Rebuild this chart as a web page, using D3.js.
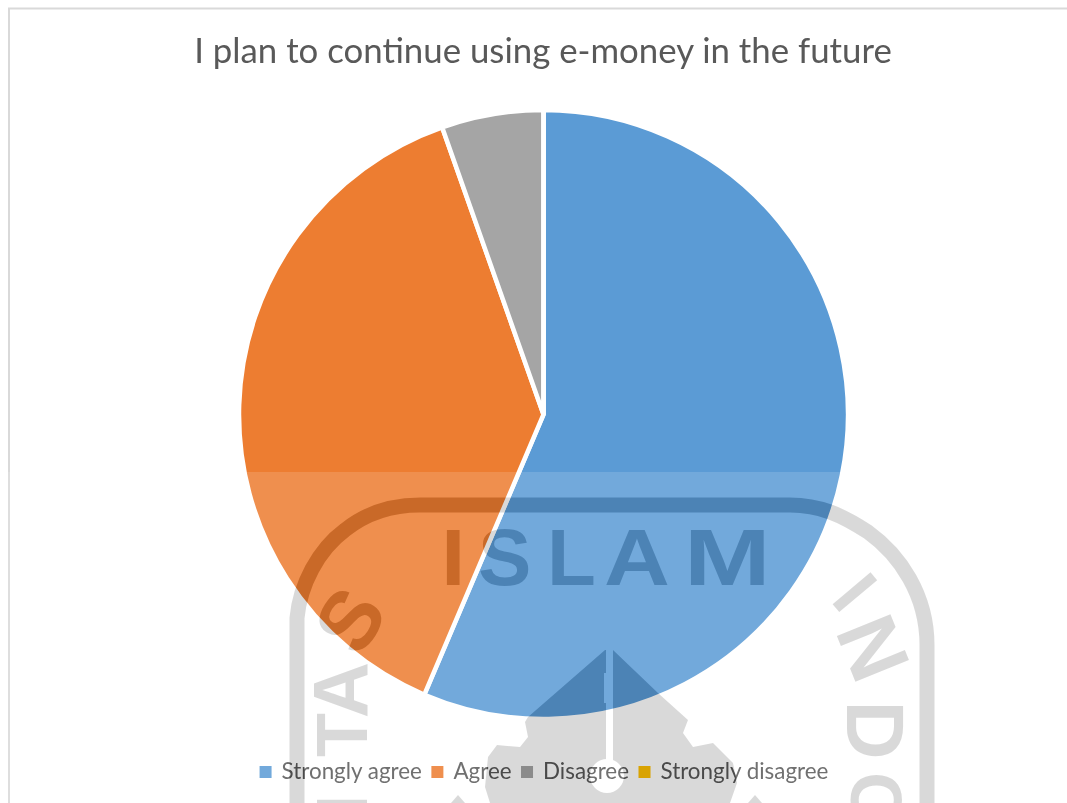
<!DOCTYPE html>
<html>
<head>
<meta charset="utf-8">
<script src="https://cdnjs.cloudflare.com/ajax/libs/d3/7.8.5/d3.min.js"></script>
<style>
  html, body { margin: 0; padding: 0; background: #fff; overflow: hidden; }
  svg { display: block; }
  text { font-family: Lato, "Open Sans", sans-serif; }
</style>
</head>
<body>
<svg id="chart" width="1067" height="803"></svg>
<script>
const chartTitle = "I plan to continue using e-money in the future";
const categories = ["Strongly agree", "Agree", "Disagree", "Strongly disagree"];
const shares = [56.4, 38.2, 5.4, 0];
const palette = ["#5b9bd5", "#ed7d31", "#a5a5a5", "#ffc000"];

const width = 1067, height = 803;
const center = { x: 543.5, y: 414.5 };
const radius = 304.5;

const svg = d3.select("#chart");
svg.append("rect").attr("width", width).attr("height", height).attr("fill", "#fff");

// Chart frame runs off the right and bottom edges of the page
svg.append("path")
  .attr("d", d3.line()([[9, height], [9, 8.5], [width, 8.5]]))
  .attr("fill", "none").attr("stroke", "#d9d9d9").attr("stroke-width", 2);

svg.append("text")
  .attr("x", 543).attr("y", 63)
  .attr("text-anchor", "middle")
  .attr("font-size", 34.8).attr("fill", "#595959")
  .text(chartTitle);

// Pie
const colour = d3.scaleOrdinal().domain(categories).range(palette);
const pie = d3.pie().sort(null).value((d, i) => shares[i]);
const arc = d3.arc().innerRadius(0).outerRadius(radius);

svg.append("g")
  .attr("transform", `translate(${center.x},${center.y})`)
  .selectAll("path")
  .data(pie(categories))
  .join("path")
  .attr("d", arc)
  .attr("fill", d => colour(d.data))
  .attr("stroke", "#fff").attr("stroke-width", 4.5);

// Legend, laid out from the measured width of each label
const legendY = 772, legendSwatch = 12, swatchGap = 10, entryGap = 9.5;
const legend = svg.append("g");
const entries = legend.selectAll("g").data(categories).join("g");
entries.append("rect")
  .attr("y", legendY - legendSwatch / 2)
  .attr("width", legendSwatch).attr("height", legendSwatch)
  .attr("fill", d => colour(d));
entries.append("text")
  .attr("x", legendSwatch + swatchGap).attr("y", legendY + 7)
  .attr("font-size", 22.4).attr("fill", "#595959")
  .text(d => d);
let cursor = 0;
entries.each(function () {
  const w = d3.select(this).select("text").node().getComputedTextLength();
  d3.select(this).attr("transform", `translate(${cursor},0)`);
  cursor += legendSwatch + swatchGap + w + entryGap;
});
legend.attr("transform", `translate(${544 - (cursor - entryGap) / 2},0)`);

// Pale sheet over the lower part of the page
svg.append("rect")
  .attr("x", 0).attr("y", 472).attr("width", width).attr("height", height - 472)
  .attr("fill", "#fff").attr("opacity", 0.14);

// University seal printed across the page; difference lowers every channel evenly
const seal = svg.append("g")
  .style("mix-blend-mode", "difference")
  .attr("fill", "#262626");

// Outer ring of the seal
seal.append("path")
  .attr("d", "M297,803 L297,618 C300,585 318,550 345,530 C365,514 390,505 420,505 L790,505 C820,505 842,515 868,532 C900,555 927,595 927,645 L927,803")
  .attr("fill", "none").attr("stroke", "#262626").attr("stroke-width", 15);

// Emblem at the foot of the seal and the two tips beside it
seal.append("path")
  .attr("d", "M605,650 L528,717 L525,722 L528,737 L520,747 L497,745 L488,757 L485,787 L490,803 L730,803 L737,783 L733,763 L713,743 L693,747 L683,733 L688,720 L658,693 L613,650 Z");
seal.append("path").attr("d", "M451,803 L458,795 L465,803 Z");
seal.append("path").attr("d", "M748,803 L755,795 L762,803 Z");

// Seal lettering: glyph, x, y, rotation, size, horizontal stretch
const wordLetters = [
  ["I", 441, 585, 0, 80, 1.1], ["S", 478, 585, 0, 80, 1], ["L", 547, 585, 0, 80, 1],
  ["A", 604, 585, 0, 80, 1.14], ["M", 684, 585, 0, 80, 1.3]
];
const ringLetters = [
  ["S", 350, 620, -58, 84, 1], ["A", 341, 690, -90, 78, 1], ["T", 342, 735, -90, 72, 1], ["I", 342, 805, -90, 72, 1],
  ["I", 855, 592, 50, 72, 1], ["N", 873, 648, 68, 84, 1], ["D", 875, 730, 90, 82, 1], ["O", 876, 800, 90, 72, 1]
];
const placeLetters = (rows, anchor, baseline) => seal.selectAll(null)
  .data(rows)
  .join("text")
  .attr("font-weight", 700)
  .style("font-family", "'Liberation Sans', sans-serif")
  .attr("font-size", d => d[4])
  .attr("text-anchor", anchor)
  .attr("dominant-baseline", baseline)
  .attr("transform", d => `translate(${d[1]},${d[2]}) rotate(${d[3]}) scale(${d[5]},1)`)
  .text(d => d[0]);
placeLetters(wordLetters, "start", "auto");
placeLetters(ringLetters, "middle", "central");

// Slit and round opening cut through the emblem
const defs = svg.append("defs");
const cut = defs.append("mask").attr("id", "emblem-cut").attr("maskUnits", "userSpaceOnUse")
  .attr("x", 0).attr("y", 0).attr("width", width).attr("height", height);
cut.append("rect").attr("width", width).attr("height", height).attr("fill", "#fff");
cut.append("rect").attr("x", 606).attr("y", 640).attr("width", 7).attr("height", 125).attr("fill", "#000");
cut.append("rect").attr("x", 604).attr("y", 673).attr("width", 9).attr("height", 30).attr("fill", "#000");
cut.append("circle").attr("cx", 607).attr("cy", 776).attr("r", 17).attr("fill", "#000");
seal.attr("mask", "url(#emblem-cut)");
</script>
</body>
</html>
